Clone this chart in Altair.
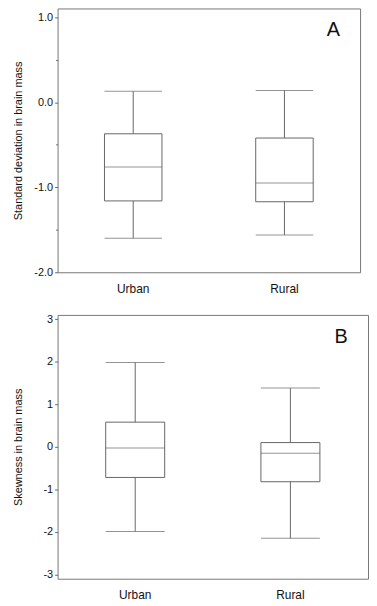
import altair as alt
import pandas as pd

groups = ["Urban", "Rural"]

# Panel A: standard deviation in brain mass
a_low = [-1.60, -1.56]
a_q1 = [-1.16, -1.17]
a_med = [-0.76, -0.95]
a_q3 = [-0.37, -0.42]
a_high = [0.13, 0.14]

# Panel B: skewness in brain mass
b_low = [-1.99, -2.15]
b_q1 = [-0.72, -0.82]
b_med = [-0.03, -0.15]
b_q3 = [0.58, 0.10]
b_high = [1.98, 1.38]

a_ticks = [-2.0, -1.5, -1.0, -0.5, 0.0, 0.5, 1.0]
b_ticks = [-3, -2.5, -2, -1.5, -1, -0.5, 0, 0.5, 1, 1.5, 2, 2.5, 3]

FONT = "Liberation Sans"
LINE = "#666666"


def panel(low, q1, med, q3, high, ticks, domain, fmt, title, letter, width, height):
    df = pd.DataFrame({"group": groups, "low": low, "q1": q1, "med": med,
                       "q3": q3, "high": high})
    bw = 0.38 * width / 2
    x = alt.X("group:N", sort=groups, title=None,
              scale=alt.Scale(paddingInner=0.62, paddingOuter=0.31),
              axis=alt.Axis(labelAngle=0, ticks=False, domain=False, labelPadding=11,
                            labelFontSize=12, labelFont=FONT, labelColor="#111"))
    label_expr = ("datum.value % 1 == 0 ? (datum.value < 0 ? '-' : '') + "
                  "format(abs(datum.value), '" + fmt + "') : ''")
    yaxis = alt.Axis(values=ticks, labelExpr=label_expr, grid=False, domain=False,
                     tickColor=LINE, tickWidth=1,
                     tickSize={"condition": {"test": "datum.value % 1 == 0", "value": 3}, "value": 2},
                     labelFontSize=11, labelFont=FONT, labelColor="#111", labelPadding=2,
                     minExtent=24,
                     title=title, titleFont=FONT, titleFontSize=11,
                     titleFontWeight="normal", titleColor="#111", titlePadding=10)
    yscale = alt.Scale(domain=domain, nice=False, zero=False)
    base = alt.Chart(df)
    whisk = base.mark_rule(color=LINE, strokeWidth=1).encode(
        x=x, y=alt.Y("low:Q", scale=yscale, axis=yaxis), y2="high:Q")
    box = base.mark_bar(fill="white", stroke=LINE, strokeWidth=1).encode(
        x=x, y=alt.Y("q1:Q"), y2="q3:Q")
    caps_lo = base.mark_tick(color=LINE, thickness=1, size=bw).encode(x=x, y="low:Q")
    caps_hi = base.mark_tick(color=LINE, thickness=1, size=bw).encode(x=x, y="high:Q")
    median = base.mark_tick(color=LINE, thickness=1, size=bw).encode(x=x, y="med:Q")
    txt = alt.Chart(pd.DataFrame({"label": [letter]})).mark_text(
        font=FONT, fontSize=20, align="center", baseline="alphabetic", color="#111"
    ).encode(text="label:N", x=alt.value(width - 27), y=alt.value(28))
    return alt.layer(whisk, box, caps_lo, caps_hi, median, txt).properties(
        width=width, height=height)


pa = panel(a_low, a_q1, a_med, a_q3, a_high, a_ticks, [-2.0, 1.105], ".1f",
           "Standard deviation in brain mass", "A", 305, 266)
pb = panel(b_low, b_q1, b_med, b_q3, b_high, b_ticks, [-3.1, 3.1], ".0f",
           "Skewness in brain mass", "B", 313, 266)

chart = alt.vconcat(pa, pb, spacing=17).resolve_scale(
    x="independent", y="independent"
).properties(
    padding={"left": 4, "top": -3, "right": 0, "bottom": 0},
    background="white",
).configure_view(stroke="#777777", strokeWidth=1)

chart.save("out.html", embed_options={"renderer": "svg", "actions": False})
